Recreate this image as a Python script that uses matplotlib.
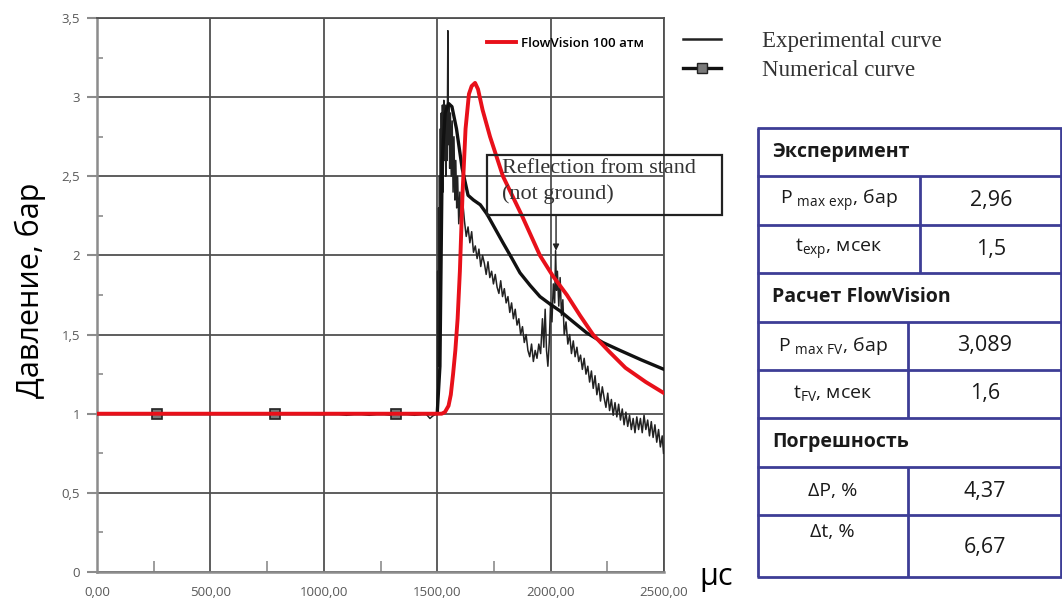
import matplotlib
matplotlib.use('Agg')
import matplotlib.pyplot as plt
from matplotlib.lines import Line2D
from matplotlib.patches import Rectangle
from matplotlib.ticker import FuncFormatter, MultipleLocator

plt.rcParams['font.family'] = ['Open Sans', 'DejaVu Sans']

# FlowVision 100 atm (red)
fv_t = [0, 1400, 1520, 1534, 1550, 1560, 1570, 1580, 1590, 1600, 1612, 1625, 1640, 1652, 1667,
        1680, 1700, 1733, 1790, 1874, 1953, 2010, 2072, 2130, 2187, 2260, 2330, 2420, 2500]
fv_p = [1.0, 1.0, 1.0, 1.01, 1.05, 1.12, 1.25, 1.4, 1.6, 1.9, 2.4, 2.8, 3.02, 3.07, 3.09,
        3.05, 2.92, 2.75, 2.5, 2.25, 2.0, 1.87, 1.75, 1.62, 1.5, 1.39, 1.29, 1.2, 1.13]

# numerical curve (thick black, square markers)
num_t = [0, 265, 785, 1318, 1500, 1512, 1522, 1535, 1550, 1565, 1585, 1610, 1636, 1660, 1690,
         1720, 1755, 1790, 1830, 1865, 1910, 1953, 2000, 2041, 2100, 2160, 2230, 2306, 2400, 2500]
num_p = [1.0, 1.0, 1.0, 1.0, 1.0, 1.3, 2.6, 2.9, 2.96, 2.94, 2.8, 2.55, 2.38, 2.35, 2.32,
         2.26, 2.17, 2.08, 1.98, 1.89, 1.81, 1.74, 1.69, 1.65, 1.58, 1.51, 1.45, 1.4, 1.34, 1.28]
num_marks = [1, 2, 3]

# experimental curve (thin, noisy)
exp_t = [0, 200, 400, 600, 800, 1000, 1050, 1100, 1150, 1200, 1250, 1300, 1350, 1400, 1450, 1468, 1480, 1495,
         1500, 1502, 1504, 1506, 1508, 1510, 1512, 1514, 1516, 1518, 1520, 1523, 1526, 1529, 1532, 1535, 1538,
         1541, 1544, 1547, 1549, 1552, 1555, 1558, 1562, 1566, 1570, 1574, 1578, 1582, 1586, 1590, 1595, 1600,
         1605, 1612,
         1620, 1628, 1636, 1644, 1652, 1660, 1668, 1676, 1684, 1692, 1700, 1708, 1716, 1724, 1732, 1740, 1748,
         1756, 1764, 1772, 1780, 1788, 1796, 1804, 1812, 1820, 1828, 1836, 1844, 1852, 1860, 1868, 1876, 1884,
         1892, 1900, 1908, 1916, 1924, 1932, 1940, 1948, 1956, 1964, 1970, 1976, 1982, 1988, 1994, 2000, 2006,
         2012, 2018, 2022, 2026, 2030, 2036, 2042, 2048, 2054, 2060, 2068, 2076, 2084, 2092, 2100, 2108, 2116,
         2124, 2132, 2140, 2148, 2156, 2164, 2172, 2180, 2188, 2196, 2204, 2212, 2220, 2228, 2236, 2244, 2252,
         2260, 2268, 2276, 2284, 2292, 2300, 2308, 2316, 2324, 2332, 2340, 2348, 2356, 2364, 2372, 2380, 2388,
         2396, 2404, 2412, 2420, 2428, 2436, 2444, 2452, 2460, 2468, 2476, 2484, 2492, 2498]
exp_p = [1.0, 1.0, 1.0, 1.0, 1.0, 0.995, 1.0, 0.99, 1.0, 0.99, 1.0, 0.99, 1.0, 0.99, 1.0, 0.97, 0.985, 1.0,
         1.0, 1.9, 1.3, 2.3, 1.5, 2.5, 1.8, 2.8, 2.0, 2.9, 2.3, 2.95, 2.4, 2.98, 2.6, 2.95, 2.5,
         2.92, 2.6, 3.42, 2.7, 2.95, 2.55, 2.9, 2.5, 2.85, 2.4, 2.75, 2.35, 2.6, 2.3, 2.5, 2.2, 2.4,
         2.15, 2.35,
         2.22, 2.12, 2.18, 2.08, 2.15, 2.02, 2.06, 1.98, 2.04, 1.93, 2.0, 1.95, 1.88, 1.96, 1.86, 1.9, 1.82,
         1.88, 1.8, 1.76, 1.84, 1.74, 1.79, 1.7, 1.74, 1.64, 1.7, 1.6, 1.66, 1.56, 1.6, 1.5, 1.55, 1.45,
         1.5, 1.4, 1.36, 1.44, 1.33, 1.4, 1.35, 1.44, 1.38, 1.6, 1.42, 1.66, 1.4, 1.3, 1.45, 1.7, 1.58,
         1.82, 1.7, 2.03, 1.78, 1.9, 1.68, 1.86, 1.62, 1.72, 1.5, 1.58, 1.44, 1.5, 1.38, 1.46, 1.36, 1.42,
         1.33, 1.37, 1.28, 1.35, 1.25, 1.3, 1.2, 1.27, 1.16, 1.24, 1.12, 1.19, 1.08, 1.17, 1.1, 1.04, 1.13,
         1.02, 1.09, 0.99, 1.07, 0.98, 1.06, 0.96, 1.03, 0.93, 1.01, 0.92, 0.99, 0.9, 0.97, 0.88, 0.98, 0.9,
         0.97, 0.88, 0.99, 0.9, 0.96, 0.86, 0.95, 0.85, 0.93, 0.82, 0.9, 0.79, 0.86, 0.75]

x_ticks = [0, 500, 1000, 1500, 2000, 2500]
y_ticks = [0, 0.5, 1, 1.5, 2, 2.5, 3, 3.5]

# table content
sections = ['Эксперимент', 'Расчет FlowVision', 'Погрешность']
row_labels = [[r'P $_{\mathregular{max\ exp}}$, бар', r't$_{\mathregular{exp}}$, мсек'],
              [r'P $_{\mathregular{max\ FV}}$, бар', r't$_{\mathregular{FV}}$, мсек'],
              ['ΔP, %', 'Δt, %']]
row_values = [['2,96', '1,5'], ['3,089', '1,6'], ['4,37', '6,67']]

W, H = 1062, 604
fig = plt.figure(figsize=(W / 100, H / 100), dpi=100)
ax = fig.add_axes([97 / W, 1 - 572 / H, 567 / W, 554 / H])

grid_c = '#505050'
axis_c = '#8c8c8c'
lab_c = '#595959'

ax.plot(exp_t, exp_p, color='#222222', lw=1.1, zorder=3, label='Experimental curve')
ax.plot(num_t, num_p, color='#111111', lw=2.4, zorder=4, marker='s', markevery=num_marks,
        markersize=7, markerfacecolor='#7a7a7a', markeredgecolor='#222222', markeredgewidth=1.2,
        label='Numerical curve')
ax.plot(fv_t, fv_p, color='#e8101a', lw=2.8, zorder=5, label='FlowVision 100 атм')

ax.set_xlim(0, 2500)
ax.set_ylim(0, 3.5)
ax.set_xticks(x_ticks)
ax.set_yticks(y_ticks)
ax.xaxis.set_minor_locator(MultipleLocator(250))
ax.yaxis.set_minor_locator(MultipleLocator(0.25))
ax.xaxis.set_major_formatter(FuncFormatter(lambda v, p: f'{v:.2f}'.replace('.', ',')))
ax.yaxis.set_major_formatter(FuncFormatter(lambda v, p: f'{v:g}'.replace('.', ',')))
ax.grid(True, which='major', color=grid_c, lw=1.3)
ax.set_axisbelow(True)

ax.tick_params(axis='x', which='major', length=0, pad=10, labelsize=9.5, labelcolor=lab_c)
ax.tick_params(axis='x', which='minor', direction='in', length=8, width=1.2, color=axis_c)
ax.tick_params(axis='y', which='major', direction='out', length=7, width=1.5, color=axis_c,
               pad=5, labelsize=9.5, labelcolor=lab_c)
ax.tick_params(axis='y', which='minor', direction='in', length=4, width=1.2, color=axis_c)

for s in ['left', 'bottom']:
    ax.spines[s].set_color(axis_c)
    ax.spines[s].set_linewidth(1.8)
for s in ['top', 'right']:
    ax.spines[s].set_color(grid_c)
    ax.spines[s].set_linewidth(1.3)

fig.text(30 / W, 1 - 290 / H, 'Давление, бар', rotation=90, fontsize=22, ha='center', va='center')
fig.text(716 / W, 1 - 577 / H, 'µс', fontsize=22, ha='center', va='center')

# annotation box with arrow
ax.add_patch(Rectangle(((487 - 97) / 567, (572 - 215) / 554), (722 - 487) / 567, 60 / 554,
                       transform=ax.transAxes, fill=False, ec='#222222', lw=1.6, clip_on=False, zorder=6))
ax.text((502 - 97) / 567, (572 - 159) / 554, 'Reflection from stand\n(not ground)', transform=ax.transAxes,
        ha='left', va='top', fontsize=16, family=['Liberation Serif', 'DejaVu Serif'], color='#333333',
        linespacing=1.45, zorder=6)
ax.annotate('', xy=(2024, 2.03), xytext=(2024, 2.25),
            arrowprops=dict(arrowstyle='-|>', color='#222222', lw=1.0, mutation_scale=9, shrinkA=0, shrinkB=0))

# legends
h_fv = Line2D([], [], color='#e8101a', lw=2.8)
leg1 = fig.legend([h_fv], ['FlowVision 100 атм'], loc='upper left', bbox_to_anchor=(487 / W, 1 - 37 / H),
                  frameon=False, borderpad=0, borderaxespad=0, handlelength=2.2, handletextpad=0.4,
                  prop={'family': ['Open Sans', 'DejaVu Sans'], 'weight': 'semibold', 'size': 9.5})
h_exp = Line2D([], [], color='#222222', lw=1.8)
h_num = Line2D([], [], color='#111111', lw=2.4, marker='s', markersize=7, markerfacecolor='#7a7a7a',
               markeredgecolor='#222222')
leg2 = fig.legend([h_exp, h_num], ['Experimental curve', 'Numerical curve'], loc='upper left',
                  bbox_to_anchor=(683 / W, 1 - 31 / H), frameon=False, borderpad=0, borderaxespad=0,
                  handlelength=1.65, handletextpad=1.8, labelspacing=0.35,
                  prop={'family': ['Liberation Serif', 'DejaVu Serif'], 'size': 16.5})
for t in leg2.get_texts():
    t.set_color('#333333')

# table at right, drawn in pixel units of its own axes
tab_left, tab_top, tab_bottom = 757, 128, 577
tax = fig.add_axes([tab_left / W, 1 - tab_bottom / H, (W - tab_left) / W, (tab_bottom - tab_top) / H])
tax.set_xlim(0, W - tab_left)
tax.set_ylim(tab_bottom - tab_top, 0)
tax.axis('off')

tab_c = '#3d3d96'
row_h = [48, 49, 48, 49, 48, 48, 49, 48, 62]
col_div = [163, 151, 151]
txt_c = '#1a1a1a'
tw = W - tab_left
tax.vlines([1, tw - 1], 0, sum(row_h), color=tab_c, lw=2, clip_on=False)
y = 0
tax.hlines(0, 0, tw, color=tab_c, lw=2, clip_on=False)
for i, sec in enumerate(sections):
    tax.text(15, y + row_h[3 * i] / 2, sec, fontsize=14, weight='bold', color=txt_c, va='center', ha='left')
    y += row_h[3 * i]
    tax.hlines(y, 0, tw, color=tab_c, lw=2, clip_on=False)
    for j in range(2):
        h = row_h[3 * i + 1 + j]
        cx = col_div[i]
        tax.vlines(cx, y, y + h, color=tab_c, lw=2, clip_on=False)
        if i == 2 and j == 1:
            ly, vy = y + 17, y + 33
        else:
            ly = vy = y + h / 2
        tax.text(cx / 2, ly, row_labels[i][j], fontsize=14, color=txt_c, va='center', ha='center')
        tax.text((cx + tw) / 2, vy, row_values[i][j], fontsize=15.5, color=txt_c, va='center', ha='center')
        y += h
        tax.hlines(y, 0, tw, color=tab_c, lw=2, clip_on=False)

fig.savefig('out.png', dpi=100)
